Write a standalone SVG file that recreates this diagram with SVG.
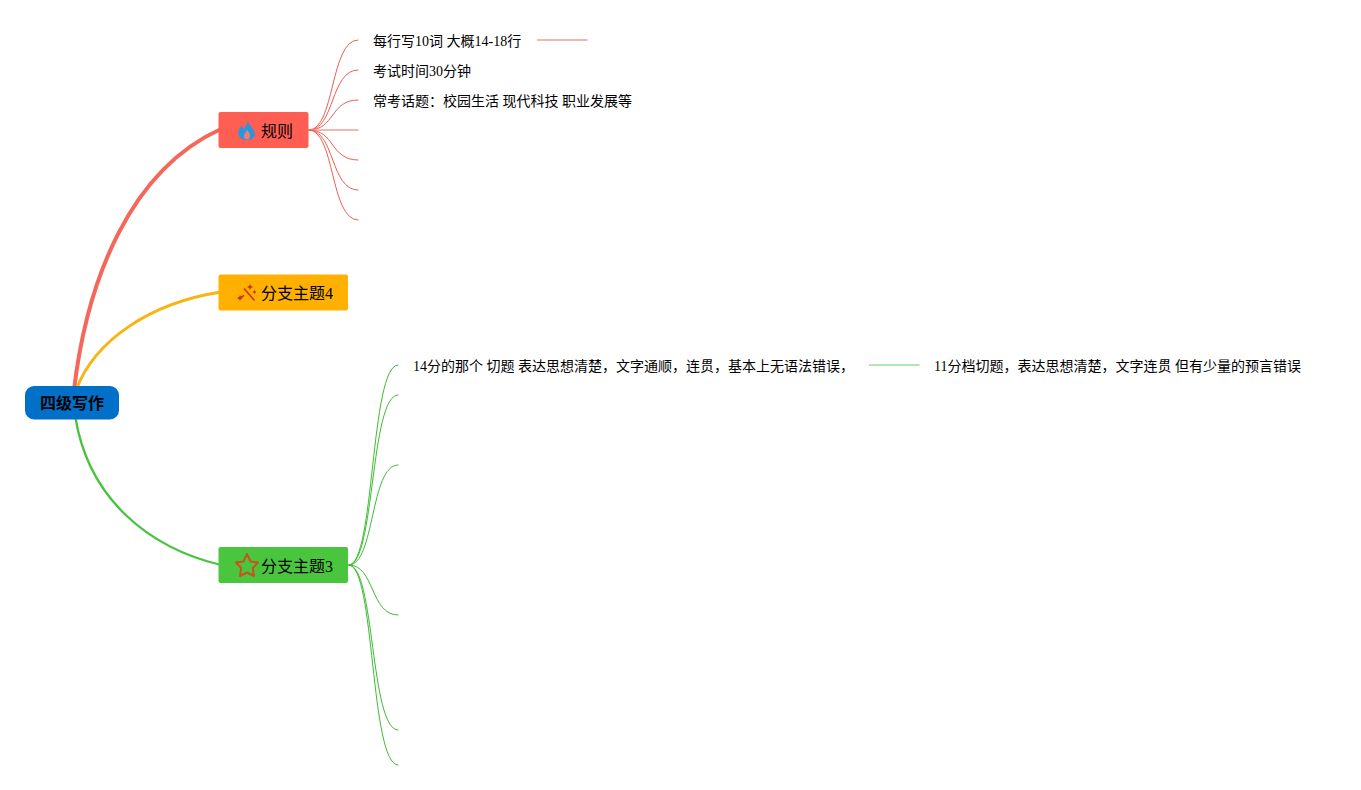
<svg xmlns="http://www.w3.org/2000/svg" width="1361" height="790" viewBox="0 0 1361 790">
<style>
text{font-family:"Liberation Serif","Noto Sans CJK SC",serif;fill:#000}
.leaf{font-size:14px}
.main{font-size:16px}
.root{font-size:16px;font-weight:700}
.c{fill:none;stroke-linecap:round}
.r{stroke:#ec5f50;stroke-width:1}
.g{stroke:#3dbb32;stroke-width:1}
.rs{stroke:#efa298;stroke-width:1.500}
.gs{stroke:#9adf93;stroke-width:1.500}
</style>
<rect width="1361" height="790" fill="#fff"/>
<g id="connectors">
<path class="c" d="M74 390C87 280 130 170 221 129" stroke="#f5675a" stroke-width="4"/>
<path class="c" d="M76 390C95 340 150 303 221 292" stroke="#f6b512" stroke-width="3"/>
<path class="c" d="M75 415C88 500 150 548 221 565" stroke="#4ac23f" stroke-width="2.300"/>
<path class="c r" d="M309 130C335 130 330 40 358 40"/>
<path class="c r" d="M309 130C335 130 330 70 358 70"/>
<path class="c r" d="M309 130C335 130 330 100 358 100"/>
<path class="c rs" d="M309 130H358"/>
<path class="c r" d="M309 130C335 130 330 160 358 160"/>
<path class="c r" d="M309 130C335 130 330 190 358 190"/>
<path class="c r" d="M309 130C335 130 330 220 358 220"/>
<path class="c rs" d="M537.500 40H587"/>
<path class="c g" d="M349 565C375 565 370 365 398 365"/>
<path class="c g" d="M349 565C375 565 370 395 398 395"/>
<path class="c g" d="M349 565C375 565 370 465 398 465"/>
<path class="c g" d="M349 565C375 565 370 615 398 615"/>
<path class="c g" d="M349 565C375 565 370 730 398 730"/>
<path class="c g" d="M349 565C375 565 370 765 398 765"/>
<path class="c gs" d="M869.500 365H919"/>
</g>
<g id="root"><rect x="25" y="386" width="94" height="33.500" rx="9" fill="#0070c9"/><text class="root" x="40" y="409">四级写作</text></g>
<g id="node-rules"><rect x="218.500" y="112" width="90" height="36" rx="2" fill="#ff5f53"/>
<path d="M248 120C248.500 124 251 126 253 129C255 132 255.500 135 254.500 136C253 139 250 140 247 140C243 140 239.500 138.500 238.500 135C237.500 131 240 128 241.500 125.500C242.500 127 243 128 244 128.500C246 126 247.500 123 248 120Z" fill="#2b96de"/><path d="M247 130C248.500 132 250.500 134 250 136.500C249.500 138.500 248 139.500 247 139.500C245.500 139.500 244 138.500 243.800 136.500C243.600 134 246 132.500 247 130Z" fill="#f77a70"/>
<text class="main" x="261" y="137">规则</text></g>
<g id="node-branch4"><rect x="218.500" y="274.500" width="129.500" height="36" rx="2" fill="#ffb000"/>
<path d="M244 288.500L254.500 300.500M244 295.500L238.500 298.500" fill="none" stroke="#d0300f" stroke-width="1.500"/><path d="M250 284l1 2 2 1-2 1-1 2-1-2-2-1 2-1zM240 295l1 2 2 1-2 1-1 2-1-2-2-1 2-1zM254.500 290l.7 1.300 1.300.7-1.300.7-.7 1.300-.7-1.300-1.300-.7 1.300-.7z" fill="#d0300f"/>
<text class="main" x="261" y="299">分支主题4</text></g>
<g id="node-branch3"><rect x="218.500" y="547" width="129.500" height="36" rx="2" fill="#4ac63e"/>
<path d="M247 554L250.500 561.500 258 562.500 252.800 568 254 576 247 572.500 240 576 241.200 568 236 562.500 243.500 561.500Z" fill="none" stroke="#c9531e" stroke-width="2" stroke-linejoin="round"/>
<text class="main" x="261" y="572">分支主题3</text></g>
<g id="leaf-1"><text class="leaf" x="373" y="46">每行写10词 大概14-18行</text></g>
<g id="leaf-2"><text class="leaf" x="373" y="76">考试时间30分钟</text></g>
<g id="leaf-3"><text class="leaf" x="373" y="106">常考话题：校园生活 现代科技 职业发展等</text></g>
<g id="leaf-4"><text class="leaf" x="413" y="371">14分的那个 切题 表达思想清楚，文字通顺，连贯，基本上无语法错误，</text></g>
<g id="leaf-5"><text class="leaf" x="934" y="371">11分档切题，表达思想清楚，文字连贯 但有少量的预言错误</text></g>
</svg>
